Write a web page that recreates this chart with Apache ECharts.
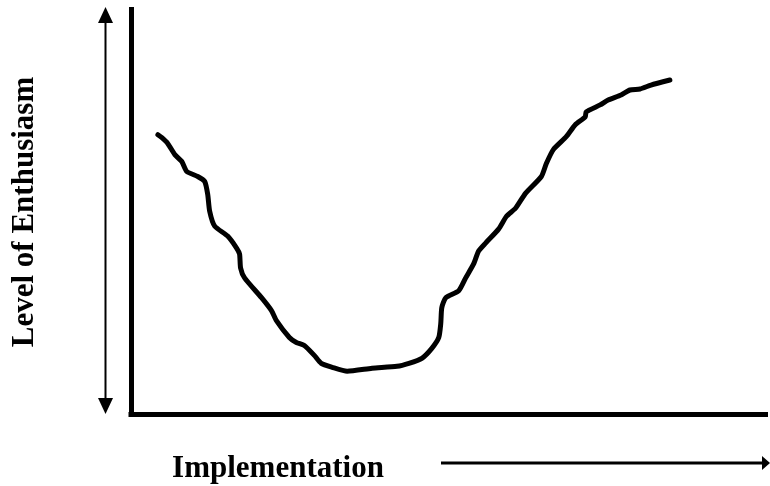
<!DOCTYPE html>
<html>
<head>
<meta charset="utf-8">
<script src="https://cdn.jsdelivr.net/npm/echarts@6/dist/echarts.min.js"></script>
<style>html,body{margin:0;padding:0;background:#fff}#c{width:770px;height:486px}</style>
</head>
<body>
<div id="c"></div>
<script>
// Implementation progress (0-100) and level of enthusiasm (0-100)
const implementation = [4.24,4.87,5.81,6.91,8.01,8.79,10.52,11.62,12.09,12.4,13.19,15.23,16.64,17.11,17.27,17.9,20.57,22.14,22.92,24.96,26.06,27.32,28.89,29.98,31.71,34.07,37.99,41.92,43.8,45.84,47.41,48.51,48.82,48.98,49.61,51.65,52.75,54.0,54.79,55.89,57.93,59.18,60.6,62.17,64.68,65.46,66.56,68.6,70.02,71.59,71.74,73.94,75.2,77.24,78.65,80.22,81.95,84.93];
const enthusiasm = [69.04,68.3,66.83,64.13,62.41,59.95,58.72,57.49,54.3,50.12,46.44,43.98,41.03,39.56,36.12,33.66,28.75,25.55,23.1,18.92,17.69,16.95,14.5,12.53,11.55,10.57,11.3,11.79,12.53,13.76,16.22,18.92,22.36,26.29,28.75,30.47,33.66,37.1,40.29,42.26,45.7,48.89,50.86,54.55,58.72,61.92,65.36,68.55,71.5,73.46,74.69,76.41,77.64,78.87,80.1,80.34,81.33,82.56];
const xLabel = 'Implementation';
const yLabel = 'Level of Enthusiasm';

const points = implementation.map((x, i) => [x, enthusiasm[i]]);
const chart = echarts.init(document.getElementById('c'), null, {renderer: 'canvas'});
const font = 'bold 31px "Liberation Serif", "Times New Roman", serif';
chart.setOption({
  animation: false,
  backgroundColor: '#fff',
  grid: {left: 131, right: 4.5, top: 9.5, bottom: 72, containLabel: false},
  xAxis: {
    type: 'value', min: 0, max: 100,
    axisLine: {show: true, onZero: false, lineStyle: {color: '#000', width: 5, cap: 'square'}},
    axisTick: {show: false}, axisLabel: {show: false}, splitLine: {show: false}
  },
  yAxis: {
    type: 'value', min: 0, max: 100,
    axisLine: {show: true, onZero: false, lineStyle: {color: '#000', width: 5, cap: 'square'}},
    axisTick: {show: false}, axisLabel: {show: false}, splitLine: {show: false}
  },
  series: [{
    type: 'line', data: points, smooth: 0.2, showSymbol: false, silent: true,
    lineStyle: {color: '#000', width: 5, cap: 'round', join: 'round'}
  }],
  graphic: [
    {type: 'line', shape: {x1: 105.5, y1: 20, x2: 105.5, y2: 401}, style: {stroke: '#000', lineWidth: 2}},
    {type: 'polygon', shape: {points: [[105.5, 7], [98, 23], [113, 23]]}, style: {fill: '#000'}},
    {type: 'polygon', shape: {points: [[105.5, 414], [98, 398], [113, 398]]}, style: {fill: '#000'}},
    {type: 'line', shape: {x1: 441, y1: 463, x2: 763, y2: 463}, style: {stroke: '#000', lineWidth: 3}},
    {type: 'polygon', shape: {points: [[770, 463], [762, 456], [762, 470]]}, style: {fill: '#000'}},
    {type: 'text', x: 278, y: 469, style: {text: xLabel, font: font, fill: '#000', align: 'center', verticalAlign: 'middle'}},
    {type: 'text', x: 25, y: 212, rotation: Math.PI / 2, style: {text: yLabel, font: font, fill: '#000', align: 'center', verticalAlign: 'middle'}}
  ]
});
</script>
</body>
</html>
